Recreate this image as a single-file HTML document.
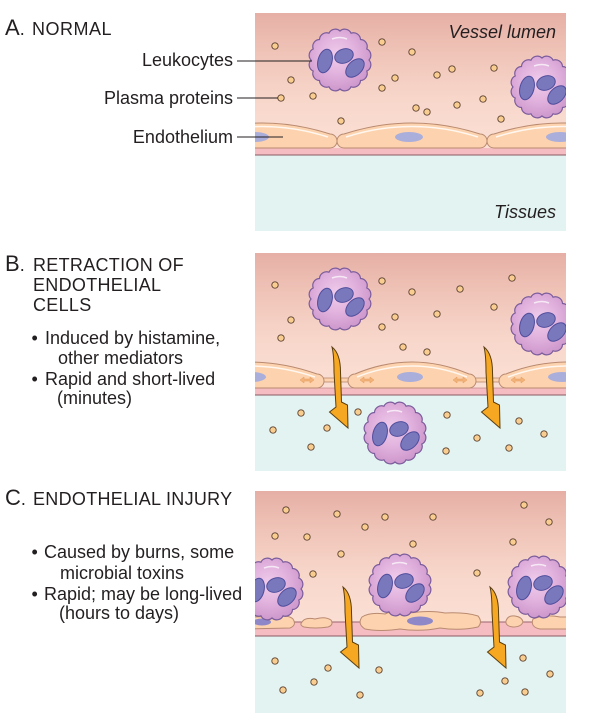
<!DOCTYPE html>
<html><head><meta charset="utf-8">
<style>
html,body{margin:0;padding:0;background:#fff;}
svg{display:block;}
text{font-family:"Liberation Sans",Arial,sans-serif;fill:#231f20;}
</style></head>
<body>
<svg width="602" height="713" viewBox="0 0 602 713" xmlns="http://www.w3.org/2000/svg">
<defs>
  <linearGradient id="lum" x1="0" y1="0" x2="0" y2="1">
    <stop offset="0" stop-color="#e6afa5"/>
    <stop offset="0.3" stop-color="#f0c4b8"/>
    <stop offset="0.65" stop-color="#f8d7cb"/>
    <stop offset="1" stop-color="#fbdfd4"/>
  </linearGradient>
  <radialGradient id="lg" cx="0.45" cy="0.42" r="0.6">
    <stop offset="0" stop-color="#f0cdec"/>
    <stop offset="0.55" stop-color="#e0b0dc"/>
    <stop offset="1" stop-color="#cc96cb"/>
  </radialGradient>
  <clipPath id="cA"><rect x="255" y="13" width="311" height="218"/></clipPath>
  <clipPath id="cB"><rect x="255" y="253" width="311" height="218"/></clipPath>
  <clipPath id="cC"><rect x="255" y="491" width="311" height="222"/></clipPath>
  <g id="leu">
    <path d="M29,0 A7,7 0 0 1 26.79,11.1 A7,7 0 0 1 20.51,20.51 A7,7 0 0 1 11.1,26.79 A7,7 0 0 1 0,29 A7,7 0 0 1 -11.1,26.79 A7,7 0 0 1 -20.51,20.51 A7,7 0 0 1 -26.79,11.1 A7,7 0 0 1 -29,0 A7,7 0 0 1 -26.79,-11.1 A7,7 0 0 1 -20.51,-20.51 A7,7 0 0 1 -11.1,-26.79 A7,7 0 0 1 0,-29 A7,7 0 0 1 11.1,-26.79 A7,7 0 0 1 20.51,-20.51 A7,7 0 0 1 26.79,-11.1 A7,7 0 0 1 29,0 Z" fill="url(#lg)" stroke="#7b5c9c" stroke-width="1.2"/>
    <path d="M-8,-21 Q0,-24 7,-21" fill="none" stroke="#fff" stroke-opacity="0.7" stroke-width="1.5"/>
    <g fill="#7a78bc" stroke="#4f4d9c" stroke-width="1">
      <ellipse cx="-15" cy="1" rx="7" ry="12" transform="rotate(15 -15 1)"/>
      <ellipse cx="4" cy="-4" rx="9.5" ry="7" transform="rotate(-20 4 -4)"/>
      <ellipse cx="15" cy="8" rx="11" ry="7" transform="rotate(-45 15 8)"/>
    </g>
  </g>
  <circle id="dot" cx="0" cy="0" r="3.2" fill="#f9cd8f" stroke="#5a4030" stroke-width="0.9"/>
  <path id="arr" d="M0,0 C5,4 8.5,12 8.5,25 L9.5,55 L15.5,58 L16,81 L-2.5,65 L4,60 L2,25 C2,14 1.5,6 0,0 Z" fill="#f7a823" stroke="#5a3e10" stroke-width="1"/>
  <polygon id="mk" points="-7,0 -3,-3 -3,-1 3,-1 3,-3 7,0 3,3 3,1 -3,1 -3,3" fill="#f2b37a" stroke="#e39a5c" stroke-width="0.5"/>
</defs>

<!-- ============ PANEL A ============ -->
<g clip-path="url(#cA)">
  <rect x="255" y="13" width="311" height="135" fill="url(#lum)"/>
  <rect x="255" y="148" width="311" height="7" fill="#f5bcc2"/>
  <line x1="255" y1="155" x2="566" y2="155" stroke="#8a5a62" stroke-width="1"/>
  <rect x="255" y="155.5" width="311" height="76" fill="#e2f3f1"/>
  <g fill="#fcd3ae" stroke="#b98a70" stroke-width="1">
    <path d="M194,148 L330,148 A7,7 0 0 0 330,134 Q262,112 194,134 A7,7 0 0 0 194,148 Z"/>
    <path d="M344,148 L480,148 A7,7 0 0 0 480,134 Q412,112 344,134 A7,7 0 0 0 344,148 Z"/>
    <path d="M494,148 L630,148 A7,7 0 0 0 630,134 Q562,112 494,134 A7,7 0 0 0 494,148 Z"/>
  </g>
  <g fill="none" stroke="#fff" stroke-opacity="0.8" stroke-width="1.5">
    <path d="M196,137 Q262,116 328,137"/>
    <path d="M346,137 Q412,116 478,137"/>
    <path d="M496,137 Q562,116 628,137"/>
  </g>
  <g fill="#aaaedb">
    <ellipse cx="255" cy="137" rx="14" ry="5"/>
    <ellipse cx="409" cy="137" rx="14" ry="5"/>
    <ellipse cx="560" cy="137" rx="14" ry="5"/>
  </g>
  <use href="#dot" x="275" y="46"/><use href="#dot" x="382" y="42"/><use href="#dot" x="412" y="52"/>
  <use href="#dot" x="291" y="80"/><use href="#dot" x="281" y="98"/><use href="#dot" x="313" y="96"/>
  <use href="#dot" x="395" y="78"/><use href="#dot" x="382" y="88"/><use href="#dot" x="437" y="75"/>
  <use href="#dot" x="452" y="69"/><use href="#dot" x="494" y="68"/><use href="#dot" x="416" y="108"/>
  <use href="#dot" x="427" y="112"/><use href="#dot" x="457" y="105"/><use href="#dot" x="483" y="99"/>
  <use href="#dot" x="341" y="121"/><use href="#dot" x="501" y="119"/>
  <use href="#leu" x="340" y="60"/>
  <use href="#leu" x="542" y="87"/>
  <text x="556" y="38" font-size="18" font-style="italic" text-anchor="end">Vessel lumen</text>
  <text x="556" y="218" font-size="18" font-style="italic" text-anchor="end">Tissues</text>
</g>
<g stroke="#231f20" stroke-width="1">
  <line x1="237" y1="61" x2="312" y2="61"/>
  <line x1="237" y1="98" x2="278" y2="98"/>
  <line x1="237" y1="137" x2="283" y2="137"/>
</g>
<text x="5" y="35" font-size="22">A<tspan font-size="18">.</tspan></text>
<text x="32" y="35" font-size="18" letter-spacing="0.5">NORMAL</text>
<text x="233" y="66" font-size="18" text-anchor="end">Leukocytes</text>
<text x="233" y="104" font-size="18" text-anchor="end">Plasma proteins</text>
<text x="233" y="143" font-size="18" text-anchor="end">Endothelium</text>

<!-- ============ PANEL B ============ -->
<g clip-path="url(#cB)">
  <rect x="255" y="253" width="311" height="135" fill="url(#lum)"/>
  <rect x="255" y="388" width="311" height="7" fill="#f5bcc2"/>
  <line x1="255" y1="388" x2="566" y2="388" stroke="#c08a8a" stroke-width="0.8"/>
  <line x1="255" y1="395" x2="566" y2="395" stroke="#8a5a62" stroke-width="1"/>
  <rect x="255" y="395.5" width="311" height="76" fill="#e2f3f1"/>
  <g fill="#fcd3ae" stroke="#b98a70" stroke-width="0.8">
    <rect x="318" y="378" width="34" height="4"/>
    <rect x="470" y="378" width="34" height="4"/>
  </g>
  <g fill="#fcd3ae" stroke="#b98a70" stroke-width="1">
    <path d="M182,388 L317,388 A7,7 0 0 0 317,374 Q250,350 182,374 A7,7 0 0 0 182,388 Z"/>
    <path d="M355,388 L469,388 A7,7 0 0 0 469,374 Q412,350 355,374 A7,7 0 0 0 355,388 Z"/>
    <path d="M506,388 L633,388 A7,7 0 0 0 633,374 Q566,350 506,374 A7,7 0 0 0 506,388 Z"/>
  </g>
  <g fill="none" stroke="#fff" stroke-opacity="0.8" stroke-width="1.5">
    <path d="M184,377 Q250,355 315,377"/>
    <path d="M357,377 Q412,355 467,377"/>
    <path d="M508,377 Q566,355 631,377"/>
  </g>
  <g fill="#aaaedb">
    <ellipse cx="252" cy="377" rx="14" ry="5"/>
    <ellipse cx="410" cy="377" rx="13" ry="5"/>
    <ellipse cx="562" cy="377" rx="14" ry="5"/>
  </g>
  <use href="#mk" x="307" y="380"/><use href="#mk" x="367" y="380"/>
  <use href="#mk" x="460" y="380"/><use href="#mk" x="518" y="380"/>
  <use href="#dot" x="275" y="285"/><use href="#dot" x="382" y="281"/><use href="#dot" x="412" y="292"/>
  <use href="#dot" x="460" y="289"/><use href="#dot" x="512" y="278"/><use href="#dot" x="291" y="320"/>
  <use href="#dot" x="395" y="317"/><use href="#dot" x="437" y="314"/><use href="#dot" x="494" y="307"/>
  <use href="#dot" x="281" y="338"/><use href="#dot" x="382" y="327"/><use href="#dot" x="403" y="347"/>
  <use href="#dot" x="427" y="352"/>
  <use href="#dot" x="301" y="413"/><use href="#dot" x="358" y="412"/><use href="#dot" x="273" y="430"/>
  <use href="#dot" x="327" y="428"/><use href="#dot" x="311" y="447"/><use href="#dot" x="447" y="415"/>
  <use href="#dot" x="519" y="421"/><use href="#dot" x="544" y="434"/><use href="#dot" x="477" y="438"/>
  <use href="#dot" x="446" y="451"/><use href="#dot" x="509" y="448"/>
  <use href="#leu" x="340" y="299"/>
  <use href="#leu" x="542" y="324"/>
  <use href="#leu" x="395" y="433"/>
  <use href="#arr" x="332" y="347"/>
  <use href="#arr" x="484" y="347"/>
</g>
<text x="5" y="271" font-size="22">B<tspan font-size="18">.</tspan></text>
<text font-size="18" letter-spacing="0.3">
  <tspan x="33" y="271">RETRACTION OF</tspan>
  <tspan x="33" y="291">ENDOTHELIAL</tspan>
  <tspan x="33" y="311">CELLS</tspan>
</text>
<text font-size="18">
  <tspan x="31.5" y="344">•</tspan><tspan x="45" y="344">Induced by histamine,</tspan>
  <tspan x="58" y="364">other mediators</tspan>
  <tspan x="31.5" y="385">•</tspan><tspan x="45" y="385">Rapid and short-lived</tspan>
  <tspan x="57" y="404">(minutes)</tspan>
</text>

<!-- ============ PANEL C ============ -->
<g clip-path="url(#cC)">
  <rect x="255" y="491" width="311" height="131" fill="url(#lum)"/>
  <rect x="255" y="622" width="311" height="14" fill="#f5bcc2"/>
  <line x1="255" y1="622" x2="566" y2="622" stroke="#9a6670" stroke-width="1"/>
  <line x1="255" y1="636" x2="566" y2="636" stroke="#8a5a62" stroke-width="1"/>
  <rect x="255" y="636.5" width="311" height="77" fill="#e2f3f1"/>
  <use href="#dot" x="286" y="510"/><use href="#dot" x="337" y="514"/><use href="#dot" x="385" y="517"/>
  <use href="#dot" x="433" y="517"/><use href="#dot" x="524" y="505"/><use href="#dot" x="549" y="522"/>
  <use href="#dot" x="275" y="536"/><use href="#dot" x="307" y="537"/><use href="#dot" x="365" y="527"/>
  <use href="#dot" x="413" y="544"/><use href="#dot" x="513" y="542"/><use href="#dot" x="341" y="554"/>
  <use href="#dot" x="313" y="574"/><use href="#dot" x="477" y="573"/>
  <use href="#dot" x="275" y="661"/><use href="#dot" x="328" y="668"/><use href="#dot" x="379" y="670"/>
  <use href="#dot" x="314" y="682"/><use href="#dot" x="283" y="690"/><use href="#dot" x="360" y="695"/>
  <use href="#dot" x="523" y="658"/><use href="#dot" x="550" y="674"/><use href="#dot" x="505" y="681"/>
  <use href="#dot" x="480" y="693"/><use href="#dot" x="525" y="692"/>
  <g fill="#fcd3ae" stroke="#b98a70" stroke-width="1">
    <path d="M240,619 Q260,615 275,618 Q288,614 293,619 Q297,625 290,628 L240,629 Z"/>
    <path d="M302,622 Q305,617 315,619 Q325,616 331,620 Q334,625 328,627 Q315,629 304,627 Q299,625 302,622 Z"/>
    <path d="M362,617 Q370,612 385,614 Q395,609 410,613 Q430,610 445,613 Q465,612 478,616 Q483,622 478,627 Q460,631 440,628 Q420,632 400,629 Q380,632 365,629 Q357,624 362,617 Z"/>
    <path d="M506,621 Q508,615 515,616 Q522,617 523,622 Q521,627 513,627 Q505,626 506,621 Z"/>
    <path d="M533,619 Q545,614 560,617 L575,617 L575,629 L540,629 Q530,627 533,619 Z"/>
  </g>
  <g fill="#8f88c8">
    <ellipse cx="262" cy="622" rx="9" ry="3.5"/>
    <ellipse cx="420" cy="621" rx="13" ry="4.5"/>
  </g>
  <use href="#leu" x="272" y="589"/>
  <use href="#leu" x="400" y="585"/>
  <use href="#leu" x="539" y="587"/>
  <use href="#arr" x="343" y="587"/>
  <use href="#arr" x="490" y="587"/>
</g>
<text x="5" y="505" font-size="22">C<tspan font-size="18">.</tspan></text>
<text x="33" y="505" font-size="18" letter-spacing="0.3">ENDOTHELIAL INJURY</text>
<text font-size="18">
  <tspan x="31.5" y="558">•</tspan><tspan x="44" y="558">Caused by burns, some</tspan>
  <tspan x="60" y="579">microbial toxins</tspan>
  <tspan x="31.5" y="600">•</tspan><tspan x="44" y="600">Rapid; may be long-lived</tspan>
  <tspan x="59" y="619">(hours to days)</tspan>
</text>
</svg>
</body></html>
